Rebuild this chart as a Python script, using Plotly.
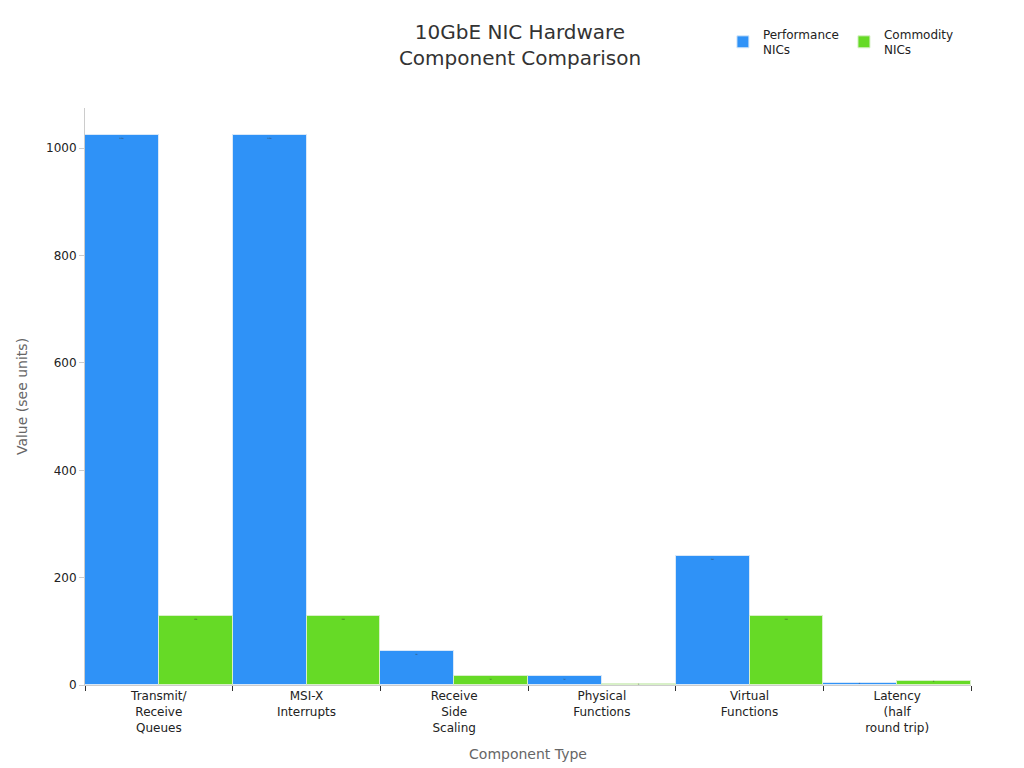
import plotly.graph_objects as go

categories = ["Transmit/<br>Receive<br>Queues", "MSI-X<br>Interrupts", "Receive<br>Side<br>Scaling",
              "Physical<br>Functions", "Virtual<br>Functions", "Latency<br>(half<br>round trip)"]
performance = [1024, 1024, 64, 16, 240, 4]
commodity = [128, 128, 16, 2, 128, 8]

fig = go.Figure()
fig.add_trace(go.Bar(x=categories, y=performance, name="Performance<br>NICs", text=performance,
                     marker=dict(color="#2f92f7", line=dict(color="#d8e8f8", width=1)),
                     textposition="inside", insidetextanchor="end", textangle=0,
                     textfont=dict(color="#333333", size=12)))
fig.add_trace(go.Bar(x=categories, y=commodity, name="Commodity<br>NICs", text=commodity,
                     marker=dict(color="#66da26", line=dict(color="#d8f0c8", width=1)),
                     textposition="inside", insidetextanchor="end", textangle=0,
                     textfont=dict(color="#333333", size=12)))

fig.update_layout(
    width=1024, height=768,
    title=dict(text="10GbE NIC Hardware<br>Component Comparison", x=0.5, y=0.96,
               font=dict(size=20, color="#333333")),
    font=dict(family="DejaVu Sans", size=12, color="#222222"),
    plot_bgcolor="white", paper_bgcolor="white",
    bargap=0.0, barmode="group",
    margin=dict(l=77, r=61, t=80, b=91),
    uniformtext=dict(minsize=1, mode="show"),
    legend=dict(orientation="h", x=0.72, y=1.075, xanchor="left", yanchor="bottom",
                font=dict(size=12)),
    xaxis=dict(title=dict(text="Component Type", font=dict(size=14, color="#666666")),
               showline=True, linecolor="#cccccc", ticks="outside", tickcolor="#333333",
               ticklen=5),
    yaxis=dict(title=dict(text="Value (see units)", font=dict(size=14, color="#666666")),
               range=[0, 1075], showgrid=False, showline=True, linecolor="#cccccc",
               ticks="outside", tickcolor="#cccccc", zeroline=False,
               tickvals=[0, 200, 400, 600, 800, 1000]),
)
fig.update_xaxes(tickson="boundaries")
fig.write_html("out.html")
